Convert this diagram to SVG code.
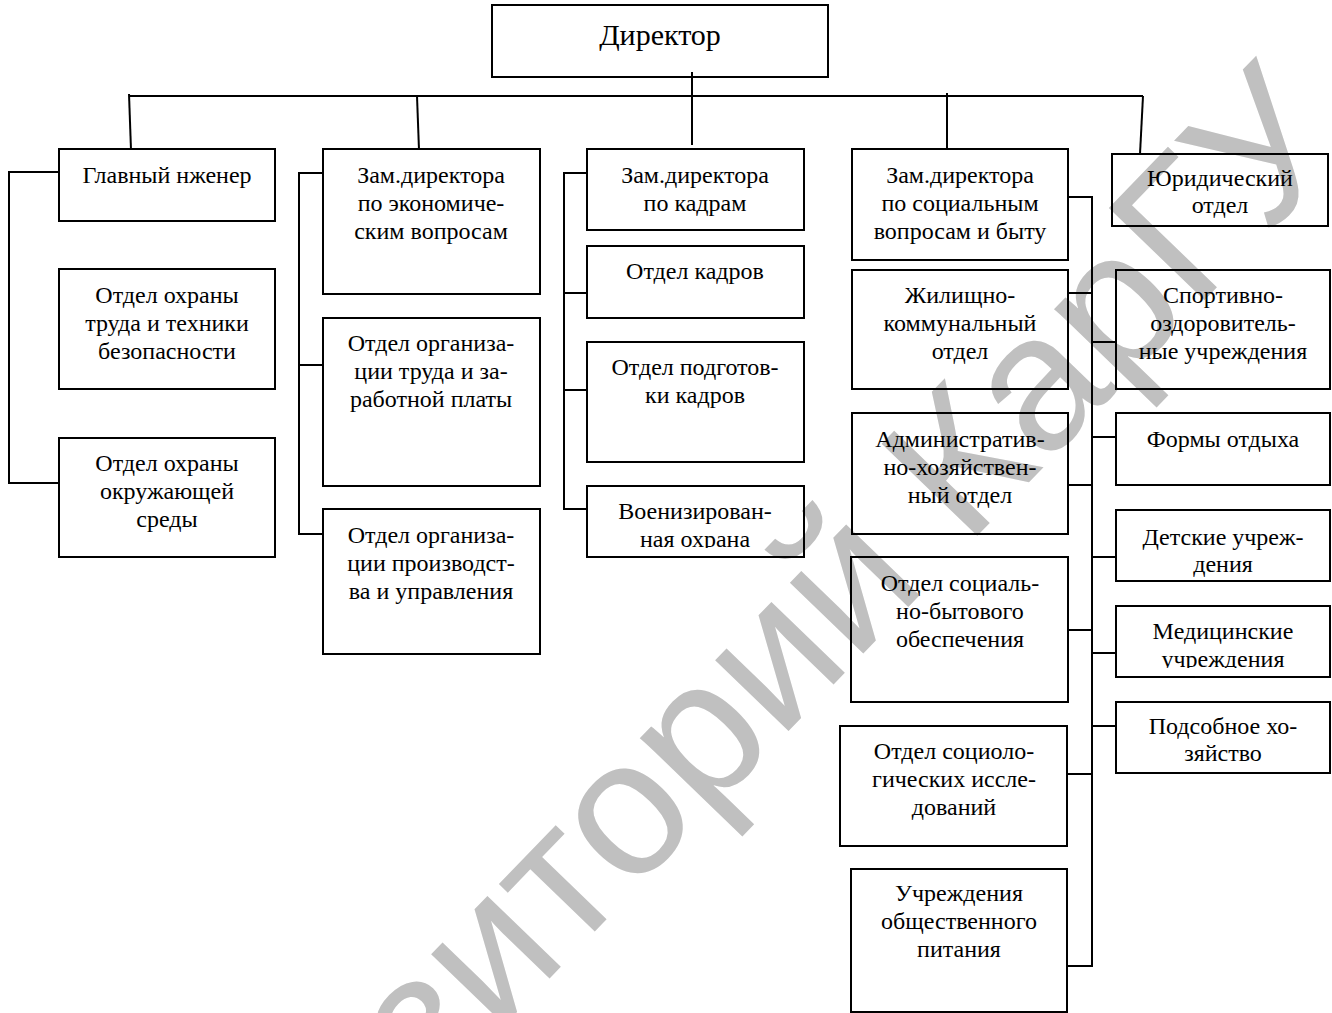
<svg xmlns="http://www.w3.org/2000/svg" width="1332" height="1013" viewBox="0 0 1332 1013">
<style>
.box{fill:none;stroke:#000;stroke-width:2}
.c{fill:none;stroke:#000;stroke-width:2}
.t{font-family:"Liberation Serif","Times New Roman",serif;font-size:24px;text-anchor:middle;fill:#000}
.big{font-size:30px}
.wm{font-family:"Liberation Sans",Arial,sans-serif;font-size:193px;fill:#c0c0c0}
</style>
<defs>
<clipPath id="clipVoen"><rect x="588" y="487" width="215" height="61"/></clipPath>
<clipPath id="clipMed"><rect x="1117" y="607" width="212" height="61"/></clipPath>
</defs>
<rect width="1332" height="1013" fill="#fff"/>
<g id="watermark"><text class="wm" transform="translate(130,1413) rotate(-46)">Репозиторий КарГУ</text></g>

<g id="connectors">
<line class="c" x1="692" y1="72" x2="692" y2="145"/>
<line class="c" x1="130" y1="96" x2="1143" y2="96"/>
<line class="c" x1="129" y1="94" x2="131" y2="150"/>
<line class="c" x1="417" y1="96" x2="419" y2="150"/>
<line class="c" x1="947" y1="93" x2="947" y2="150"/>
<line class="c" x1="1143" y1="96" x2="1140" y2="154"/>
<polyline class="c" points="59,172 9,172 9,483 59,483"/>
<polyline class="c" points="323,173 299,173 299,534 323,534"/>
<line class="c" x1="299" y1="365" x2="323" y2="365"/>
<polyline class="c" points="587,173 564,173 564,509 587,509"/>
<line class="c" x1="564" y1="293" x2="587" y2="293"/>
<line class="c" x1="564" y1="390" x2="587" y2="390"/>
<polyline class="c" points="1068,197 1092,197 1092,966 1067,966"/>
<line class="c" x1="1068" y1="293" x2="1092" y2="293"/>
<line class="c" x1="1068" y1="485" x2="1092" y2="485"/>
<line class="c" x1="1068" y1="630" x2="1092" y2="630"/>
<line class="c" x1="1067" y1="774" x2="1092" y2="774"/>
<line class="c" x1="1092" y1="342" x2="1116" y2="342"/>
<line class="c" x1="1092" y1="437" x2="1116" y2="437"/>
<line class="c" x1="1092" y1="557" x2="1116" y2="557"/>
<line class="c" x1="1092" y1="653" x2="1116" y2="653"/>
<line class="c" x1="1092" y1="726" x2="1116" y2="726"/>
</g>

<g id="director"><rect class="box" x="492" y="5" width="336" height="72"/><text class="t big" x="660" y="45">Директор</text></g>

<g id="chief-engineer"><rect class="box" x="59" y="149" width="216" height="72"/><text class="t" x="167" y="183">Главный нженер</text></g>
<g id="labor-safety"><rect class="box" x="59" y="269" width="216" height="120"/><text class="t" x="167" y="303">Отдел охраны</text><text class="t" x="167" y="331">труда и техники</text><text class="t" x="167" y="359">безопасности</text></g>
<g id="environment"><rect class="box" x="59" y="438" width="216" height="119"/><text class="t" x="167" y="471">Отдел охраны</text><text class="t" x="167" y="499">окружающей</text><text class="t" x="167" y="527">среды</text></g>

<g id="deputy-economic"><rect class="box" x="323" y="149" width="217" height="145"/><text class="t" x="431" y="183">Зам.директора</text><text class="t" x="431" y="211">по экономиче-</text><text class="t" x="431" y="239">ским вопросам</text></g>
<g id="labor-wages"><rect class="box" x="323" y="318" width="217" height="168"/><text class="t" x="431" y="351">Отдел организа-</text><text class="t" x="431" y="379">ции труда и за-</text><text class="t" x="431" y="407">работной платы</text></g>
<g id="production-mgmt"><rect class="box" x="323" y="509" width="217" height="145"/><text class="t" x="431" y="543">Отдел организа-</text><text class="t" x="431" y="571">ции производст-</text><text class="t" x="431" y="599">ва и управления</text></g>

<g id="deputy-hr"><rect class="box" x="587" y="149" width="217" height="81"/><text class="t" x="695" y="183">Зам.директора</text><text class="t" x="695" y="211">по кадрам</text></g>
<g id="hr-dept"><rect class="box" x="587" y="246" width="217" height="72"/><text class="t" x="695" y="279">Отдел кадров</text></g>
<g id="hr-training"><rect class="box" x="587" y="342" width="217" height="120"/><text class="t" x="695" y="375">Отдел подготов-</text><text class="t" x="695" y="403">ки кадров</text></g>
<g id="guard"><rect class="box" x="587" y="486" width="217" height="71"/><text class="t" x="695" y="519">Военизирован-</text><text class="t" x="695" y="547" clip-path="url(#clipVoen)">ная охрана</text></g>

<g id="deputy-social"><rect class="box" x="852" y="149" width="216" height="111"/><text class="t" x="960" y="183">Зам.директора</text><text class="t" x="960" y="211">по социальным</text><text class="t" x="960" y="239">вопросам и быту</text></g>
<g id="housing"><rect class="box" x="852" y="270" width="216" height="119"/><text class="t" x="960" y="303">Жилищно-</text><text class="t" x="960" y="331">коммунальный</text><text class="t" x="960" y="359">отдел</text></g>
<g id="admin"><rect class="box" x="852" y="413" width="216" height="121"/><text class="t" x="960" y="447">Административ-</text><text class="t" x="960" y="475">но-хозяйствен-</text><text class="t" x="960" y="503">ный отдел</text></g>
<g id="social-services"><rect class="box" x="851" y="557" width="217" height="145"/><text class="t" x="960" y="591">Отдел социаль-</text><text class="t" x="960" y="619">но-бытового</text><text class="t" x="960" y="647">обеспечения</text></g>
<g id="sociology"><rect class="box" x="840" y="726" width="227" height="120"/><text class="t" x="954" y="759">Отдел социоло-</text><text class="t" x="954" y="787">гических иссле-</text><text class="t" x="954" y="815">дований</text></g>
<g id="catering"><rect class="box" x="851" y="869" width="216" height="143"/><text class="t" x="959" y="901">Учреждения</text><text class="t" x="959" y="929">общественного</text><text class="t" x="959" y="957">питания</text></g>

<g id="legal"><rect class="box" x="1112" y="154" width="216" height="72"/><text class="t" x="1220" y="186">Юридический</text><text class="t" x="1220" y="213">отдел</text></g>
<g id="sports"><rect class="box" x="1116" y="270" width="214" height="119"/><text class="t" x="1223" y="303">Спортивно-</text><text class="t" x="1223" y="331">оздоровитель-</text><text class="t" x="1223" y="359">ные учреждения</text></g>
<g id="leisure"><rect class="box" x="1116" y="413" width="214" height="72"/><text class="t" x="1223" y="447">Формы отдыха</text></g>
<g id="children"><rect class="box" x="1116" y="510" width="214" height="71"/><text class="t" x="1223" y="545">Детские учреж-</text><text class="t" x="1223" y="572">дения</text></g>
<g id="medical"><rect class="box" x="1116" y="606" width="214" height="71"/><text class="t" x="1223" y="639">Медицинские</text><text class="t" x="1223" y="667" clip-path="url(#clipMed)">учреждения</text></g>
<g id="farm"><rect class="box" x="1116" y="702" width="214" height="71"/><text class="t" x="1223" y="734">Подсобное хо-</text><text class="t" x="1223" y="761">зяйство</text></g>
</svg>
